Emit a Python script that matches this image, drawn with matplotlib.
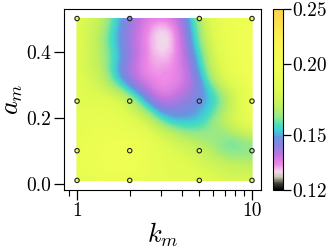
import numpy as np
import matplotlib
matplotlib.use('Agg')
import matplotlib.pyplot as plt
import matplotlib.tri as mtri
from matplotlib.colors import LinearSegmentedColormap, LogNorm

plt.rcParams['font.family'] = 'serif'
plt.rcParams['font.serif'] = ['cmr10']
plt.rcParams['mathtext.fontset'] = 'cm'
plt.rcParams['axes.formatter.use_mathtext'] = True

# colour field (rows: a_m, columns: k_m)
k_grid = [1.0, 1.334, 1.778, 2.371, 3.162, 4.217, 5.623, 7.499, 10.0]
a_grid = [0.01, 0.071, 0.133, 0.194, 0.255, 0.316, 0.378, 0.439, 0.5]
field = [
    [0.186, 0.190, 0.192, 0.190, 0.186, 0.185, 0.182, 0.178, 0.178],
    [0.190, 0.194, 0.196, 0.193, 0.185, 0.180, 0.173, 0.167, 0.166],
    [0.188, 0.193, 0.194, 0.190, 0.178, 0.169, 0.164, 0.161, 0.165],
    [0.186, 0.190, 0.186, 0.175, 0.157, 0.152, 0.158, 0.172, 0.188],
    [0.184, 0.182, 0.174, 0.153, 0.139, 0.143, 0.152, 0.170, 0.193],
    [0.182, 0.172, 0.152, 0.137, 0.133, 0.138, 0.158, 0.182, 0.196],
    [0.181, 0.168, 0.149, 0.135, 0.131, 0.140, 0.166, 0.190, 0.197],
    [0.181, 0.167, 0.148, 0.135, 0.129, 0.143, 0.172, 0.192, 0.197],
    [0.181, 0.170, 0.150, 0.137, 0.134, 0.147, 0.177, 0.193, 0.192],
]

# sampled points (markers)
k_pts = [1, 2, 5, 10]
a_pts = [0.01, 0.1, 0.25, 0.5]
pt_vals = [
    [0.186, 0.192, 0.184, 0.178],
    [0.192, 0.195, 0.178, 0.164],
    [0.184, 0.168, 0.146, 0.193],
    [0.181, 0.145, 0.180, 0.192],
]

cmap = LinearSegmentedColormap.from_list('km', [
    (0.000, '#000000'),
    (0.035, '#404038'),
    (0.070, '#c8c4ac'),
    (0.100, '#f4d8ee'),
    (0.140, '#ee88e6'),
    (0.190, '#c474e0'),
    (0.240, '#9080e0'),
    (0.290, '#6a94e0'),
    (0.330, '#40d0d8'),
    (0.365, '#50e0b8'),
    (0.400, '#90e890'),
    (0.460, '#c0f060'),
    (0.550, '#defa50'),
    (0.690, '#f2ff52'),
    (0.850, '#fcf050'),
    (1.000, '#ffd24c'),
])
norm = LogNorm(vmin=0.12, vmax=0.25)

fig = plt.figure(figsize=(3.32, 2.49), dpi=100)
ax = fig.add_axes([0.193, 0.237, 0.593, 0.727])
cax = fig.add_axes([0.822, 0.237, 0.030, 0.725])

# smooth field: cubic interpolation in (log k, a) space
K, A = np.meshgrid(np.log10(k_grid), np.array(a_grid) * 2)
tri = mtri.Triangulation(K.ravel(), A.ravel())
interp = mtri.CubicTriInterpolator(tri, np.array(field).ravel(), kind='min_E')
xf = np.linspace(0, 1, 120)
yf = np.linspace(a_grid[0], a_grid[-1], 120)
XF, YF = np.meshgrid(xf, yf)
ZF = interp(XF, YF * 2)

ax.set_xscale('log')
pm = ax.pcolormesh(10 ** XF, YF, ZF, shading='gouraud', cmap=cmap, norm=norm)

KP, AP = np.meshgrid(k_pts, a_pts)
ax.scatter(KP.ravel(), AP.ravel(), c=np.array(pt_vals).ravel(), cmap=cmap, norm=norm,
           s=10, edgecolors='#222222', linewidths=0.8, zorder=3)

ax.set_xlim(0.843, 11.25)
ax.set_ylim(-0.019, 0.529)
ax.set_xticks([1, 10], ['1', '10'])
ax.set_yticks([0.0, 0.2, 0.4], ['0.0', '0.2', '0.4'])
ax.tick_params(which='major', length=7, width=0.9, labelsize=14, pad=2)
ax.tick_params(which='minor', length=4, width=0.8)
ax.tick_params(axis='y', which='minor', left=False)
ax.set_xlabel(r'$k_m$', fontsize=19, labelpad=0)
ax.set_ylabel(r'$a_m$', fontsize=19, labelpad=1)

cb = fig.colorbar(pm, cax=cax)
cb.minorticks_off()
cb.set_ticks([0.12, 0.15, 0.20, 0.25], labels=['0.12', '0.15', '0.20', '0.25'])
cb.ax.tick_params(length=6, width=0.9, labelsize=14, pad=1)

fig.savefig('out.png', dpi=100)
